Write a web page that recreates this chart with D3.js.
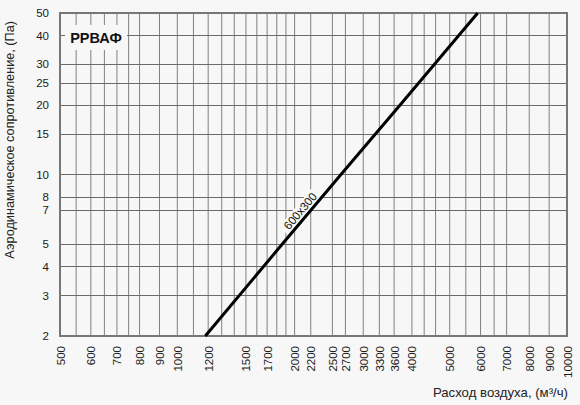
<!DOCTYPE html>
<html>
<head>
<meta charset="utf-8">
<script src="https://cdn.jsdelivr.net/npm/d3@7"></script>
<style>
  html, body { margin: 0; padding: 0; background: #f7f7f7; }
  svg { display: block; }
</style>
</head>
<body>
<svg id="chart" width="580" height="405"></svg>
<script>
// ---- data ----
const xTickLabels = [500, 600, 700, 800, 900, 1000, 1200, 1500, 1700, 2000, 2200, 2500, 2700,
                     3000, 3300, 3600, 4000, 5000, 6000, 7000, 8000, 9000, 10000];
const xExtraGrid = [550, 650, 750, 1100, 1300, 1400, 1600, 1800, 1900, 4300, 4600, 5500, 6500];
const yTickLabels = [2, 3, 4, 5, 7, 8, 10, 15, 20, 25, 30, 40, 50];
const seriesName = "600x300";
const flow = [1180, 1860, 2630, 3730, 5900];      // м³/ч
const pressure = [2, 5, 10, 20, 50];               // Па
const chartTitle = "РРВАФ";
const xTitle = "Расход воздуха, (м³/ч)";
const yTitle = "Аэродинамическое сопротивление, (Па)";

// ---- layout ----
const W = 580, H = 405;
const m = { left: 60, right: 13, top: 13, bottom: 69 };
const svg = d3.select("#chart");
const bg = "#f7f7f7";
svg.append("rect").attr("width", W).attr("height", H).attr("fill", bg);

const x = d3.scaleLog().domain([500, 10000]).range([m.left, W - m.right]);
const y = d3.scaleLog().domain([2, 50]).range([H - m.bottom, m.top]);

const font = "'Liberation Sans', Arial, sans-serif";

// grid
const g = svg.append("g");
const xGrid = xTickLabels.concat(xExtraGrid);
g.selectAll("line.vx").data(xGrid).enter().append("line")
  .attr("x1", d => x(d)).attr("x2", d => x(d))
  .attr("y1", y(2)).attr("y2", y(50))
  .attr("stroke", "#808080").attr("stroke-width", 1);
g.selectAll("line.hy").data(yTickLabels).enter().append("line")
  .attr("x1", x(500)).attr("x2", x(10000))
  .attr("y1", d => Math.round(y(d)) + 0.5).attr("y2", d => Math.round(y(d)) + 0.5)
  .attr("stroke", "#6a6a6a").attr("stroke-width", 1);

// frame
svg.append("rect")
  .attr("x", x(500)).attr("y", y(50))
  .attr("width", x(10000) - x(500)).attr("height", y(2) - y(50))
  .attr("fill", "none").attr("stroke", "#777").attr("stroke-width", 2);

// axes (labels only)
const xAxis = d3.axisBottom(x).tickValues(xTickLabels).tickFormat(d3.format("d")).tickSize(0);
const xa = svg.append("g").attr("transform", `translate(0,${y(2)})`).call(xAxis);
xa.select(".domain").remove();
xa.selectAll("text")
  .attr("transform", "rotate(-90)")
  .attr("text-anchor", "end")
  .attr("x", -10).attr("y", 0).attr("dy", "0.35em")
  .attr("font-family", font).attr("font-size", "11.5px").attr("fill", "#1a1a1a");

const yAxis = d3.axisLeft(y).tickValues(yTickLabels).tickFormat(d3.format("d")).tickSize(0);
const ya = svg.append("g").attr("transform", `translate(${x(500)},0)`).call(yAxis);
ya.select(".domain").remove();
ya.selectAll("text")
  .attr("x", -11)
  .attr("font-family", font).attr("font-size", "11.5px").attr("fill", "#1a1a1a");

// title box
const tb = svg.append("g");
tb.append("rect").attr("x", 65).attr("y", 25).attr("width", 62).attr("height", 25).attr("fill", bg);
tb.append("text").attr("x", 96).attr("y", 43).attr("text-anchor", "middle")
  .attr("font-family", font).attr("font-weight", "bold").attr("font-size", "14.5px")
  .attr("fill", "#111").text(chartTitle);

// series line
const pts = flow.map((f, i) => [x(f), y(pressure[i])]);
const ang = Math.atan2(pts[pts.length - 1][1] - pts[0][1], pts[pts.length - 1][0] - pts[0][0]) * 180 / Math.PI;

// series label (background first)
const lp = [x(2144), y(6.6)];
const lab = svg.append("g").attr("transform", `translate(${lp[0]},${lp[1]}) rotate(${ang})`);
lab.append("rect").attr("x", -26).attr("y", -14).attr("width", 52).attr("height", 13).attr("fill", bg);

svg.append("path")
  .datum(pts)
  .attr("d", d3.line())
  .attr("fill", "none").attr("stroke", "#000").attr("stroke-width", 3);

lab.append("text").attr("x", 0).attr("y", -4).attr("text-anchor", "middle")
  .attr("font-family", font).attr("font-size", "11.5px").attr("fill", "#111")
  .text(seriesName);

// axis titles
svg.append("text").attr("x", 568).attr("y", 397).attr("text-anchor", "end")
  .attr("font-family", font).attr("font-size", "13.2px").attr("fill", "#222")
  .text(xTitle);
svg.append("text").attr("transform", "translate(14,21) rotate(-90)").attr("text-anchor", "end")
  .attr("font-family", font).attr("font-size", "12.7px").attr("fill", "#222")
  .text(yTitle);
</script>
</body>
</html>
